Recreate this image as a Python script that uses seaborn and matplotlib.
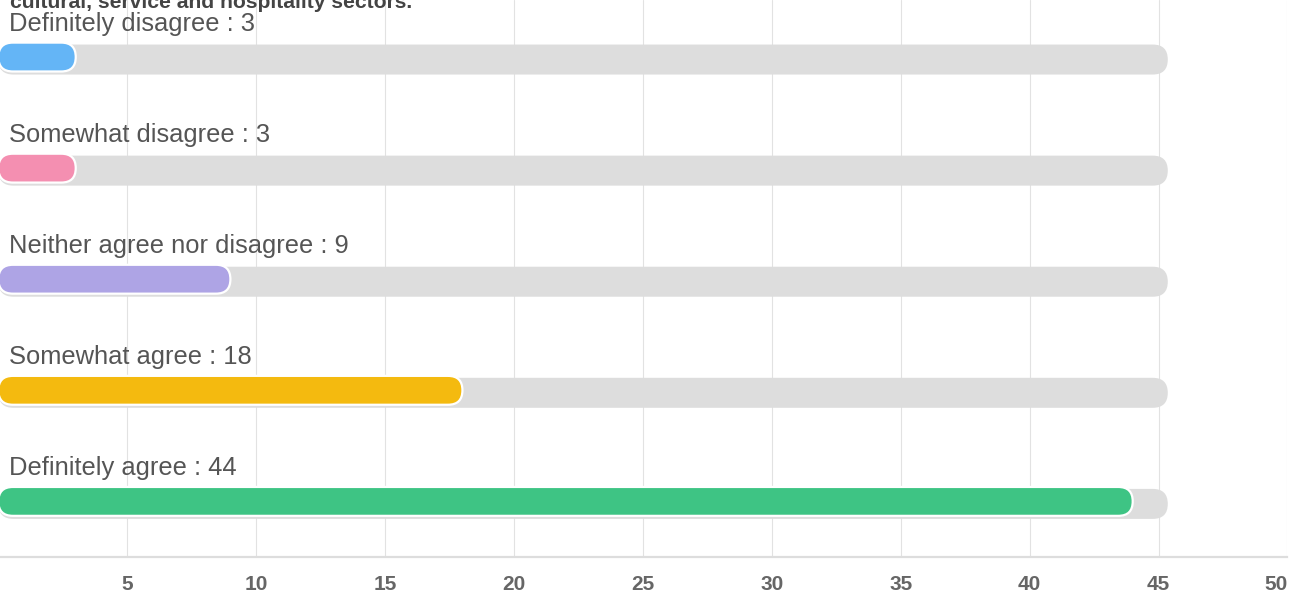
import numpy as np
import pandas as pd
import matplotlib
matplotlib.use("Agg")
import matplotlib.pyplot as plt
from matplotlib.patches import FancyBboxPatch
from matplotlib import font_manager
import seaborn as sns

# data
answers = ['Definitely disagree', 'Somewhat disagree', 'Neither agree nor disagree',
           'Somewhat agree', 'Definitely agree']
counts = [3, 3, 9, 18, 44]
track_max = [45, 45, 45, 45, 45]
colors = ['#64B5F6', '#F48FB1', '#AEA4E5', '#F4BA0F', '#3EC484']
ticks = [5, 10, 15, 20, 25, 30, 35, 40, 45, 50]
title = 'cultural, service and hospitality sectors.'

df = pd.DataFrame({'answer': answers, 'count': counts, 'track': track_max})

sns.set_style('white')
plt.rcParams['font.family'] = ['Liberation Sans', 'DejaVu Sans']

# narrow bold font for the axis numbers if it is there
names = {f.name for f in font_manager.fontManager.ttflist}
tick_font = 'Liberation Sans Narrow' if 'Liberation Sans Narrow' in names else 'Liberation Sans'

W, H = 1302, 613
fig = plt.figure(figsize=(W / 100, H / 100), dpi=100)

# axes placement in pixels (x=0 sits just off the left edge)
x0_px, x50_px = -1.6, 1287.4
axis_px = 557
ylo, yhi = -0.536, 4.478
ax = fig.add_axes([x0_px / W, (H - axis_px) / H, (x50_px - x0_px) / W, axis_px / H])

# gray tracks then coloured bars
sns.barplot(data=df, x='track', y='answer', orient='h', color='#DDDDDD', saturation=1,
            width=0.27, ax=ax)
sns.barplot(data=df, x='count', y='answer', orient='h', hue='answer', palette=colors,
            saturation=1, legend=False, width=0.26, ax=ax)

ax.set_xlim(0, 50)
ax.set_ylim(yhi, ylo)

# rounded ends: swap rectangles for round boxes
px_x = (x50_px - x0_px) / 50
px_y = axis_px / (yhi - ylo)
asp = px_x / px_y
n = len(answers)
old = list(ax.patches)
for i, p in enumerate(old):
    x, y = p.get_x(), p.get_y()
    w, h = p.get_width(), p.get_height()
    is_track = i < n
    if is_track:
        w = w + 0.36
        fc, ec, lw = '#DDDDDD', 'none', 0
    else:
        y = y - 2.5 / px_y
        fc, ec, lw = p.get_facecolor(), 'white', 1.6
    r = (h / 2) / asp
    p.remove()
    ax.add_patch(FancyBboxPatch((x, y), w, h,
                                boxstyle=f"round,pad=0,rounding_size={r}",
                                mutation_aspect=asp, fc=fc, ec=ec, lw=lw,
                                zorder=2 if is_track else 3))

# labels above each bar
for i, (a, c) in enumerate(zip(answers, counts)):
    ax.text(11 / px_x, i - 0.135 - 14 / px_y, f'{a} : {c}', fontsize=18.4,
            color='#555555', va='baseline', ha='left', zorder=4)

ax.set_xticks(ticks)
ax.set_xticklabels([str(t) for t in ticks], fontweight='bold', fontsize=15,
                   color='#666666', family=tick_font)
ax.get_xticklabels()[-1].set_ha('right')
ax.tick_params(axis='x', length=0, pad=13)
ax.set_yticks([])
ax.set_xlabel('')
ax.set_ylabel('')
ax.grid(axis='x', color='#E2E2E2', lw=0.8, zorder=0)
ax.set_axisbelow(True)
for s in ['top', 'left', 'right']:
    ax.spines[s].set_visible(False)
ax.spines['bottom'].set_color('#DDDDDD')
ax.spines['bottom'].set_linewidth(1.6)

fig.text(10 / W, 1 - 8 / H, title, fontsize=15.2, fontweight='bold', color='#444444',
         va='baseline', ha='left')

fig.savefig('out.png', dpi=100)
